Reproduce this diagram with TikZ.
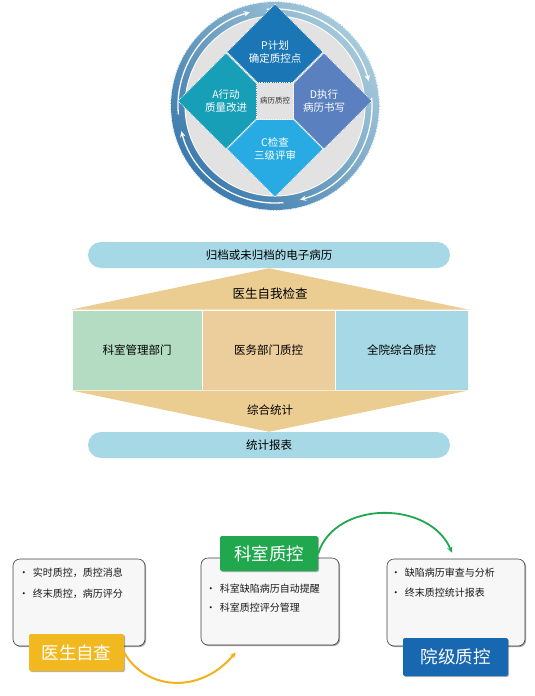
\documentclass[tikz,border=0pt]{standalone}
\usepackage{fontspec}
\setmainfont{Noto Sans CJK SC}
\usetikzlibrary{arrows.meta,calc,shapes.geometric,shadows}
\definecolor{ringd}{HTML}{3C7AAD}
\definecolor{ringl}{HTML}{A6CADA}
\definecolor{disk}{HTML}{E2E2E2}
\definecolor{cplan}{HTML}{1B76B5}
\definecolor{cdo}{HTML}{5A80BF}
\definecolor{ccheck}{HTML}{28ABE2}
\definecolor{cact}{HTML}{179FB7}
\definecolor{pillc}{HTML}{A7D8E5}
\definecolor{ttan}{HTML}{EBCD92}
\definecolor{sgreen}{HTML}{B3DCC3}
\definecolor{stan}{HTML}{ECCD9C}
\definecolor{tyellow}{HTML}{F2B81F}
\definecolor{tgreen}{HTML}{21A84F}
\definecolor{tblue}{HTML}{1767B1}
\tikzset{
  >={Stealth[length=6pt,width=5.5pt]},
  ra/.style={->,white,line width=1.3pt},
  dia/.style={diamond,aspect=1,minimum width=96pt,minimum height=96pt,inner sep=0pt,draw=white,densely dotted,line width=0.8pt,text=white,align=center,font=\fontsize{10.5}{13}\selectfont},
  core/.style={rectangle,minimum size=37pt,inner sep=0pt,fill=disk,draw=white,densely dotted,line width=0.8pt,text=black!80,font=\fontsize{7.5}{9}\selectfont},
  pill/.style={rectangle,rounded corners=13pt,minimum width=362pt,minimum height=26pt,fill=pillc,font=\fontsize{11.5}{13}\selectfont},
  sec/.style={rectangle,minimum width=130pt,minimum height=80pt,draw=white,line width=1pt,font=\fontsize{11.5}{13}\selectfont},
  card/.style={rectangle,rounded corners=7pt,minimum height=87pt,fill=black!3,draw=black!75,line width=0.6pt,
    drop shadow={shadow xshift=1.2pt,shadow yshift=-1.2pt,opacity=.35,fill=black}},
  item/.style={anchor=west,inner sep=0pt,text=black!90,font=\fontsize{10}{12}\selectfont},
  tag/.style={rectangle,rounded corners=2pt,minimum height=37pt,text=white,font=\fontsize{17.5}{20}\selectfont,
    drop shadow={shadow xshift=1pt,shadow yshift=-1pt,opacity=.3,fill=black}},
  every picture/.style={line width=0.5pt},
}
\begin{document}
\begin{tikzpicture}[x=1pt,y=-1pt]
\useasboundingbox (0,0) rectangle (535,696);
% PDCA ring
\coordinate (ctr) at (275,106);
\shade[top color=ringl,bottom color=ringd,shading angle=-50] (ctr) circle[radius=104];
\draw[ringl,dotted,line width=0.8pt] (ctr) circle[radius=104.5];
\fill[white] (ctr) circle[radius=90.5]; \fill[disk] (ctr) circle[radius=89.5];
\draw[ra] ($(ctr)+(-185:97)$) arc[start angle=-185,end angle=-105,radius=97];
\draw[ra] ($(ctr)+(-95:97)$) arc[start angle=-95,end angle=-15,radius=97];
\draw[ra] ($(ctr)+(-5:97)$) arc[start angle=-5,end angle=75,radius=97];
\draw[ra] ($(ctr)+(85:97)$) arc[start angle=85,end angle=165,radius=97];
\node[dia,fill=cplan] (plan) at (275,52) {P计划\\确定质控点};
\node[dia,fill=cdo] (do) at (324,101) {D执行\\病历书写};
\node[dia,fill=ccheck] (check) at (275,149) {C检查\\三级评审};
\node[dia,fill=cact] (act) at (226,101) {A行动\\质量改进};
\node[core] (qc) at (275,101) {病历质控};
% flow of checks
\node[pill] (arch) at (269,255) {归档或未归档的电子病历};
\node[sec,fill=sgreen] (dept) at (137,350) {科室管理部门};
\node[sec,fill=stan,minimum width=133pt] (med) at (268.5,350) {医务部门质控};
\node[sec,fill=pillc,minimum width=133pt] (hosp) at (401.5,350) {全院综合质控};
\node[pill] (rep) at (269,445) {统计报表};
\fill[ttan] (arch.south) -- (dept.north west) -- (hosp.north east) -- cycle;
\fill[ttan] (dept.south west) -- (hosp.south east) -- (rep.north) -- cycle;
\node[font=\fontsize{12.5}{14}\selectfont] (self) at (270,294) {医生自我检查};
\node[font=\fontsize{11.5}{13}\selectfont] (stat) at (270,410) {综合统计};
% three levels
\node[card,minimum width=132pt] (b1) at (79,602.5) {};
\node[card,minimum width=138pt] (b2) at (270,601.5) {};
\node[card,minimum width=138pt] (b3) at (456,602.5) {};
\node[item] (b1a) at ($(b1.north west)+(6,14)$) {•\hspace{4pt}实时质控，质控消息};
\node[item] (b1b) at ($(b1.north west)+(6,35)$) {•\hspace{4pt}终末质控，病历评分};
\node[item] (b2a) at ($(b2.north west)+(5,31)$) {•\hspace{4pt}科室缺陷病历自动提醒};
\node[item] (b2b) at ($(b2.north west)+(5,50)$) {•\hspace{4pt}科室质控评分管理};
\node[item] (b3a) at ($(b3.north west)+(4,14)$) {•\hspace{4pt}缺陷病历审查与分析};
\node[item] (b3b) at ($(b3.north west)+(4,34)$) {•\hspace{4pt}终末质控统计报表};
\node[tag,fill=tyellow,minimum width=95pt] (t1) at (76.5,652.5) {医生自查};
\node[tag,fill=tgreen,minimum width=98pt,minimum height=35pt] (t2) at (269,553.5) {科室质控};
\node[tag,fill=tblue,minimum width=105pt,minimum height=38pt] (t3) at (455.5,657) {院级质控};
\coordinate (e1) at ($(b2.south west)+(35,7)$);
\coordinate (e2) at ($(b3.north)+(-4,-6)$);
\draw[->,tyellow!90!orange,line width=2pt] (t1.east) .. controls (145,690) and (200,695) .. (e1);
\draw[->,tgreen,line width=1.8pt] (t2.east) .. controls (335,500) and (430,500) .. (e2);
\end{tikzpicture}
\end{document}
